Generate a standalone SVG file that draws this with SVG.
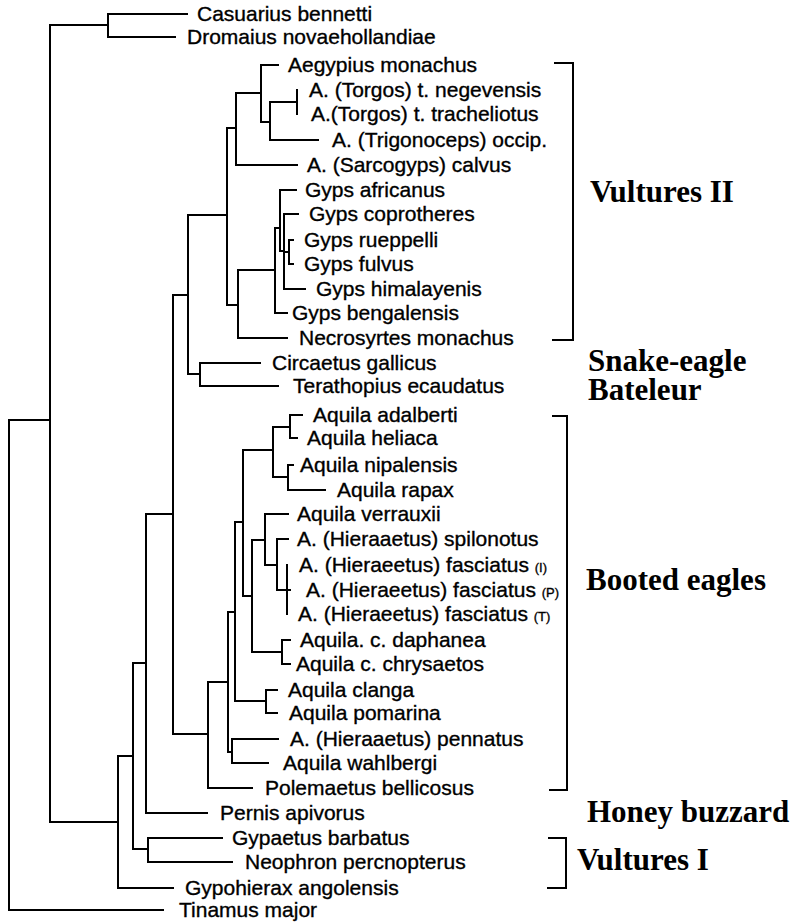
<svg xmlns="http://www.w3.org/2000/svg" width="790" height="924" viewBox="0 0 790 924">
<style>
.t{font-family:"Liberation Sans",Arial,sans-serif;font-size:21px;fill:#000;stroke:#000;stroke-width:0.35}
.s{font-size:13px}
.g{font-family:"Liberation Serif","Times New Roman",serif;font-size:31px;font-weight:bold;fill:#000}
.e{fill:none;stroke:#000;stroke-width:2;stroke-linecap:square}
</style>
<rect width="790" height="924" fill="#fff"/>
<g id="connectors" class="e">
<path d="M9 420V910H163M9 420H50M50 25V822M50 25H108M108 14V37M108 14H187M108 37H175"/>
<path d="M50 822H118M118 756V888H173M118 756H133M133 663V849H148M148 838V862M148 838H222M148 862H232"/>
<path d="M133 663H146M146 514V813H207M146 514H173M173 295V734H208M208 682V788H252"/>
<path d="M173 295H188M188 215V374H200M200 363V386M200 363H260M200 386H278"/>
<path d="M188 215H227M227 128V305H238M227 128H236M236 93V165H297M236 93H261M261 65V122H270M261 65H278M270 102V140H318M270 102H297M297 90V114"/>
<path d="M238 270V338H287M238 270H275M275 228V313H287M275 228H280M280 190V251H284M280 190H296M284 214V289M284 214H298M284 289H305M284 252H289M289 240V264M289 240H293M289 264H293"/>
<path d="M208 682H228M228 612V752H232M232 739V763M232 739H278M232 763H268M228 612H235M235 522V701H266M266 690V713M266 690H277M266 713H277"/>
<path d="M235 522H243M243 450V596H252M243 450H273M273 427V477H288M273 427H290M290 415V438M290 415H302M290 438H297M288 465V490M288 465H293M288 490H325"/>
<path d="M252 540V652H282M282 640V664M282 640H290M282 664H290M252 540H265M265 514V565H277M265 514H288M277 539V590H287M277 539H288M287 565V614M287 590H290"/>
</g>
<g id="leaves" class="t">
<g id="n-casuarius"><text x="197" y="21">Casuarius bennetti</text></g>
<g id="n-dromaius"><text x="187" y="44">Dromaius novaehollandiae</text></g>
<g id="n-aegypius"><text x="288" y="72">Aegypius monachus</text></g>
<g id="n-negevensis"><text x="309" y="97">A. (Torgos) t. negevensis</text></g>
<g id="n-tracheliotus"><text x="311" y="121">A.(Torgos) t. tracheliotus</text></g>
<g id="n-trigonoceps"><text x="332" y="147">A. (Trigonoceps) occip.</text></g>
<g id="n-sarcogyps"><text x="307" y="172">A. (Sarcogyps) calvus</text></g>
<g id="n-gafricanus"><text x="305" y="197">Gyps africanus</text></g>
<g id="n-gcoprotheres"><text x="309" y="221">Gyps coprotheres</text></g>
<g id="n-grueppelli"><text x="304" y="247">Gyps rueppelli</text></g>
<g id="n-gfulvus"><text x="304" y="271">Gyps fulvus</text></g>
<g id="n-ghimalayensis"><text x="316" y="296">Gyps himalayenis</text></g>
<g id="n-gbengalensis"><text x="292" y="320">Gyps bengalensis</text></g>
<g id="n-necrosyrtes"><text x="299" y="345">Necrosyrtes monachus</text></g>
<g id="n-circaetus"><text x="272" y="370">Circaetus gallicus</text></g>
<g id="n-terathopius"><text x="293" y="393">Terathopius ecaudatus</text></g>
<g id="n-adalberti"><text x="313" y="422">Aquila adalberti</text></g>
<g id="n-heliaca"><text x="307" y="445">Aquila heliaca</text></g>
<g id="n-nipalensis"><text x="300" y="472">Aquila nipalensis</text></g>
<g id="n-rapax"><text x="337" y="497">Aquila rapax</text></g>
<g id="n-verrauxii"><text x="297" y="521">Aquila verrauxii</text></g>
<g id="n-spilonotus"><text x="297" y="546">A. (Hieraaetus) spilonotus</text></g>
<g id="n-fasciatusI"><text x="299" y="572">A. (Hieraeetus) fasciatus <tspan class="s">(I)</tspan></text></g>
<g id="n-fasciatusP"><text x="306" y="597">A. (Hieraeetus) fasciatus <tspan class="s">(P)</tspan></text></g>
<g id="n-fasciatusT"><text x="298" y="621">A. (Hieraeetus) fasciatus <tspan class="s">(T)</tspan></text></g>
<g id="n-daphanea"><text x="300" y="647">Aquila. c. daphanea</text></g>
<g id="n-chrysaetos"><text x="296" y="671">Aquila c. chrysaetos</text></g>
<g id="n-clanga"><text x="288" y="697">Aquila clanga</text></g>
<g id="n-pomarina"><text x="289" y="720">Aquila pomarina</text></g>
<g id="n-pennatus"><text x="290" y="746">A. (Hieraaetus) pennatus</text></g>
<g id="n-wahlbergi"><text x="283" y="770">Aquila wahlbergi</text></g>
<g id="n-polemaetus"><text x="265" y="795">Polemaetus bellicosus</text></g>
<g id="n-pernis"><text x="220" y="820">Pernis apivorus</text></g>
<g id="n-gypaetus"><text x="232" y="845">Gypaetus barbatus</text></g>
<g id="n-neophron"><text x="245" y="869">Neophron percnopterus</text></g>
<g id="n-gypohierax"><text x="185" y="895">Gypohierax angolensis</text></g>
<g id="n-tinamus"><text x="179" y="917">Tinamus major</text></g>
</g>
<g id="groups">
<g id="grp-vultures2"><path class="e" d="M555 63H573V340H553"/><text class="g" x="590" y="202">Vultures II</text></g>
<g id="grp-snake"><text class="g" x="588" y="371">Snake-eagle</text></g>
<g id="grp-bateleur"><text class="g" x="588" y="400">Bateleur</text></g>
<g id="grp-booted"><path class="e" d="M553 416H567V790H550"/><text class="g" x="586" y="590">Booted eagles</text></g>
<g id="grp-honey"><text class="g" x="587" y="822">Honey buzzard</text></g>
<g id="grp-vultures1"><path class="e" d="M549 838H566V888H548"/><text class="g" x="577" y="870">Vultures I</text></g>
</g>
</svg>
